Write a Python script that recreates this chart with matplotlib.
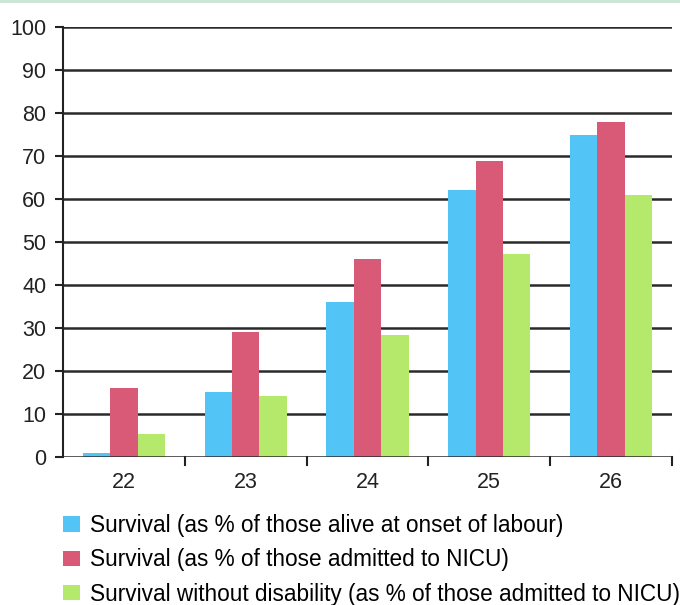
import matplotlib
matplotlib.use("Agg")
import matplotlib.pyplot as plt
import numpy as np
from matplotlib.lines import Line2D

plt.rcParams['font.family'] = ['Liberation Sans', 'DejaVu Sans']

weeks = ["22", "23", "24", "25", "26"]
alive_at_labour = [1, 15.2, 36, 62, 75]
admitted_nicu = [16, 29, 46, 68.8, 78]
no_disability = [5.3, 14.3, 28.4, 47.2, 61]
series_labels = [
    "Survival (as % of those alive at onset of labour)",
    "Survival (as % of those admitted to NICU)",
    "Survival without disability (as % of those admitted to NICU)",
]
colors = ["#52c4f6", "#d95a77", "#b4e96c"]
yticks = list(range(0, 101, 10))

fig = plt.figure(figsize=(6.8, 6.05), dpi=100)
ax = fig.add_axes([63 / 680, 1 - 457 / 605, 609 / 680, 430 / 605])

x = np.arange(len(weeks))
w = 0.225
for i, (vals, c, lab) in enumerate(zip([alive_at_labour, admitted_nicu, no_disability], colors, series_labels)):
    ax.bar(x + (i - 1) * w, vals, width=w, color=c, label=lab, zorder=3, linewidth=0)

ax.set_xlim(-0.5, len(weeks) - 0.5)
ax.set_ylim(0, 100)
ax.set_yticks(yticks)
ax.set_yticklabels([str(t) for t in yticks], fontsize=15.5, color="#222222")
ax.set_xticks(x)
ax.set_xticklabels(weeks, fontsize=15.5, color="#222222")
ax.tick_params(axis='x', length=0, pad=11)
ax.tick_params(axis='y', length=6, width=1.5, color="#222222", pad=6)

# separators between week groups on the x axis
for b in np.arange(0.5, len(weeks), 1.0):
    ax.plot([b, b], [0, -1.8], color="#222222", lw=1.5, clip_on=False, zorder=4)

for t in yticks[1:]:
    ax.axhline(t, color="#2a2a2a", lw=1.8, zorder=1)
ax.axhline(0, color="#2a2a2a", lw=1.8, zorder=4)

for s in ["top", "right", "bottom"]:
    ax.spines[s].set_visible(False)
ax.spines["left"].set_linewidth(1.5)
ax.spines["left"].set_color("#222222")

# thin border line along the top of the figure
fig.add_artist(Line2D([0, 1], [0.998, 0.998], transform=fig.transFigure, color="#c9e6d3", lw=2))

handles, labels = ax.get_legend_handles_labels()
fig.legend(handles, labels, loc="upper left", bbox_to_anchor=(63 / 680, 1 - 514 / 605),
           frameon=False, fontsize=16.3, handlelength=0.75, handleheight=0.66,
           handletextpad=0.45, labelspacing=0.5, borderaxespad=0, borderpad=0)

fig.savefig("out.png", dpi=100, facecolor="white")
